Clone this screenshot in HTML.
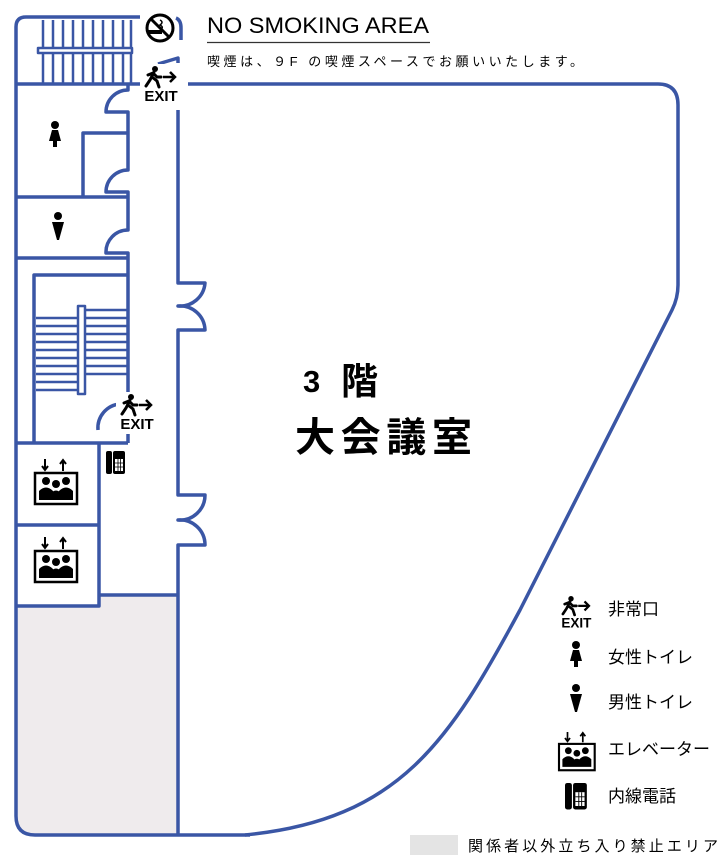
<!DOCTYPE html>
<html><head><meta charset="utf-8"><style>
html,body{margin:0;padding:0;background:#fff;width:728px;height:864px;overflow:hidden}
svg{display:block}
text{font-family:"Liberation Sans","Noto Sans CJK JP",sans-serif}
</style></head><body>
<svg width="728" height="864" viewBox="0 0 728 864" xmlns="http://www.w3.org/2000/svg">
<defs>
<g id="exit">
  <circle cx="10" cy="3" r="3" fill="#000"/>
  <path d="M9 6 L5 14 L1 20 M7 11 L12 15 L14 21 M3 9 L8 7 L12 11 L16 11" stroke="#000" stroke-width="3" fill="none" stroke-linecap="round"/>
  <path d="M18 11 H30 M25 6 L30 11 L25 16" stroke="#000" stroke-width="2.5" fill="none"/>
  <text x="16" y="35" font-size="15" font-weight="bold" text-anchor="middle" fill="#000">EXIT</text>
</g>
<g id="elev">
  <path d="M-10 0 V10 M-13 7 L-10 11 L-7 7" stroke="#000" stroke-width="2" fill="none"/>
  <path d="M8 12 V2 M5 5 L8 1 L11 5" stroke="#000" stroke-width="2" fill="none"/>
  <rect x="-20" y="14" width="42" height="31" fill="#fff" stroke="#000" stroke-width="2.5"/>
  <circle cx="-9" cy="22" r="4" fill="#000"/><circle cx="1" cy="25" r="4" fill="#000"/><circle cx="11" cy="22" r="4" fill="#000"/>
  <path d="M-16 41 V32 Q-9 25 -2 32 V41Z M-5 41 V35 Q1 28 7 35 V41Z M4 41 V32 Q11 25 18 32 V41Z" fill="#000"/>
</g>
<g id="phone">
  <rect x="0" y="0" width="6" height="23" rx="2" fill="#000"/>
  <rect x="7" y="0" width="12" height="23" rx="2" fill="#000"/>
  <rect x="9" y="8" width="8" height="12" fill="#fff"/>
  <path d="M9 12 H17 M9 16 H17 M12 8 V20 M14.5 8 V20" stroke="#000" stroke-width="0.8"/>
</g>
<g id="woman">
  <circle cx="0" cy="0" r="4" fill="#000"/>
  <path d="M-3 5 H3 L6 16 H2 V22 H-2 V16 H-6Z" fill="#000"/>
</g>
<g id="man">
  <circle cx="0" cy="0" r="4" fill="#000"/>
  <path d="M-6 6 H6 L1 24 H-1Z" fill="#000"/>
</g>
</defs>

<path d="M16 606 H99 V595 H178 V835 H35 Q16 835 16 816Z" fill="#efebed"/>

<g stroke="#3a56a5" stroke-width="3.5" fill="none" stroke-linejoin="round">
  <path d="M140 17 H26 Q16 17 16 27 V816 Q16 835 35 835 H250"/>
  <path d="M245 835 C400 820 450 740 520 610 L672 310 Q678 298 678 285 V105 Q678 84 658 84 H188"/>
  <path d="M178 110 V283 H205 A25 25 0 0 1 178 306 A25 25 0 0 1 205 330 H178 V495 H205 A25 25 0 0 1 178 520 A25 25 0 0 1 205 545 H178 V835"/>
  <path d="M176 18 Q181 20 181 28 V40"/>
  <path d="M158 64 L178 58 V63" />
  <path d="M16 84 H140"/>
  <path d="M128 84 V90 A22 22 0 0 0 106 112 H128 V170 A22 22 0 0 0 106 192 H128 V230 A22 22 0 0 0 106 253 H128 V443"/>
  <path d="M83 197 V133 H128"/>
  <path d="M16 197 H128 M16 258 H128"/>
  <path d="M34 443 V275 H128"/>
  <path d="M16 443 H128"/>
  <path d="M99 443 V606 H16 M16 525 H99"/>
  <path d="M99 595 H178"/>
  <path d="M98 430 A24 24 0 0 1 120 404"/>
  <g stroke-width="2.5">
  <path d="M43 20 V83 M53 20 V83 M63 20 V83 M73 20 V83 M83 20 V83 M93 20 V83 M103 20 V83 M113 20 V83 M123 20 V83 M131 20 V83"/>
  <rect x="38" y="48" width="94" height="5" fill="#fff"/>
  <path d="M36 318 H78 M36 326 H78 M36 334 H78 M36 342 H78 M36 350 H78 M36 358 H78 M36 366 H78 M36 374 H78 M36 382 H78 M36 390 H78"/>
  <path d="M85 310 H128 M85 318 H128 M85 326 H128 M85 334 H128 M85 342 H128 M85 350 H128 M85 358 H128 M85 366 H128 M85 374 H128"/>
  <rect x="78" y="306" width="7" height="88" fill="#fff"/>
  </g>
</g>

<rect x="140" y="64" width="46" height="42" fill="#fff"/>
<use href="#exit" x="145" y="66"/>
<rect x="116" y="392" width="46" height="42" fill="#fff"/>
<use href="#exit" x="121" y="394"/>

<use href="#woman" x="55" y="125"/>
<use href="#man" x="58" y="216"/>
<use href="#elev" x="55" y="459"/>
<use href="#elev" x="55" y="537"/>
<use href="#phone" x="106" y="451"/>

<circle cx="160" cy="28" r="13" fill="#fff" stroke="#000" stroke-width="3"/>
<rect x="148" y="30" width="14" height="4" fill="#000"/>
<path d="M160 20 q4 2 0 5 q4 2 1 4" stroke="#000" stroke-width="1.5" fill="none"/>
<path d="M151 19 L169 37" stroke="#000" stroke-width="3"/>

<text x="207" y="33" font-size="22" fill="#000" textLength="222" lengthAdjust="spacingAndGlyphs">NO SMOKING AREA</text>
<path d="M207 42.5 H430" stroke="#333" stroke-width="1.2"/>
<text x="207" y="66" font-size="13" fill="#000" textLength="376">喫煙は、９F の喫煙スペースでお願いいたします。</text>

<text x="303" y="392" font-size="31" font-weight="bold" fill="#000">3</text>
<text x="341" y="394" font-size="37" font-weight="bold" fill="#000">階</text>
<text x="295" y="451" font-size="40" font-weight="bold" fill="#000" textLength="177">大会議室</text>

<use href="#exit" x="562" y="596" transform="translate(562 596) scale(0.9) translate(-562 -596)"/>
<text x="608" y="615" font-size="17" fill="#000">非常口</text>
<use href="#woman" x="576" y="645"/>
<text x="608" y="663" font-size="17" fill="#000">女性トイレ</text>
<use href="#man" x="576" y="688"/>
<text x="608" y="708" font-size="17" fill="#000">男性トイレ</text>
<use href="#elev" x="576" y="732" transform="translate(576 732) scale(0.85) translate(-576 -732)"/>
<text x="608" y="755" font-size="17" fill="#000">エレベーター</text>
<use href="#phone" x="565" y="783" transform="translate(565 783) scale(1.15) translate(-565 -783)"/>
<text x="608" y="802" font-size="17" fill="#000">内線電話</text>
<rect x="410" y="835" width="48" height="20" fill="#e4e4e4"/>
<text x="468" y="851" font-size="15" fill="#000" textLength="250">関係者以外立ち入り禁止エリア</text>
</svg>
</body></html>
